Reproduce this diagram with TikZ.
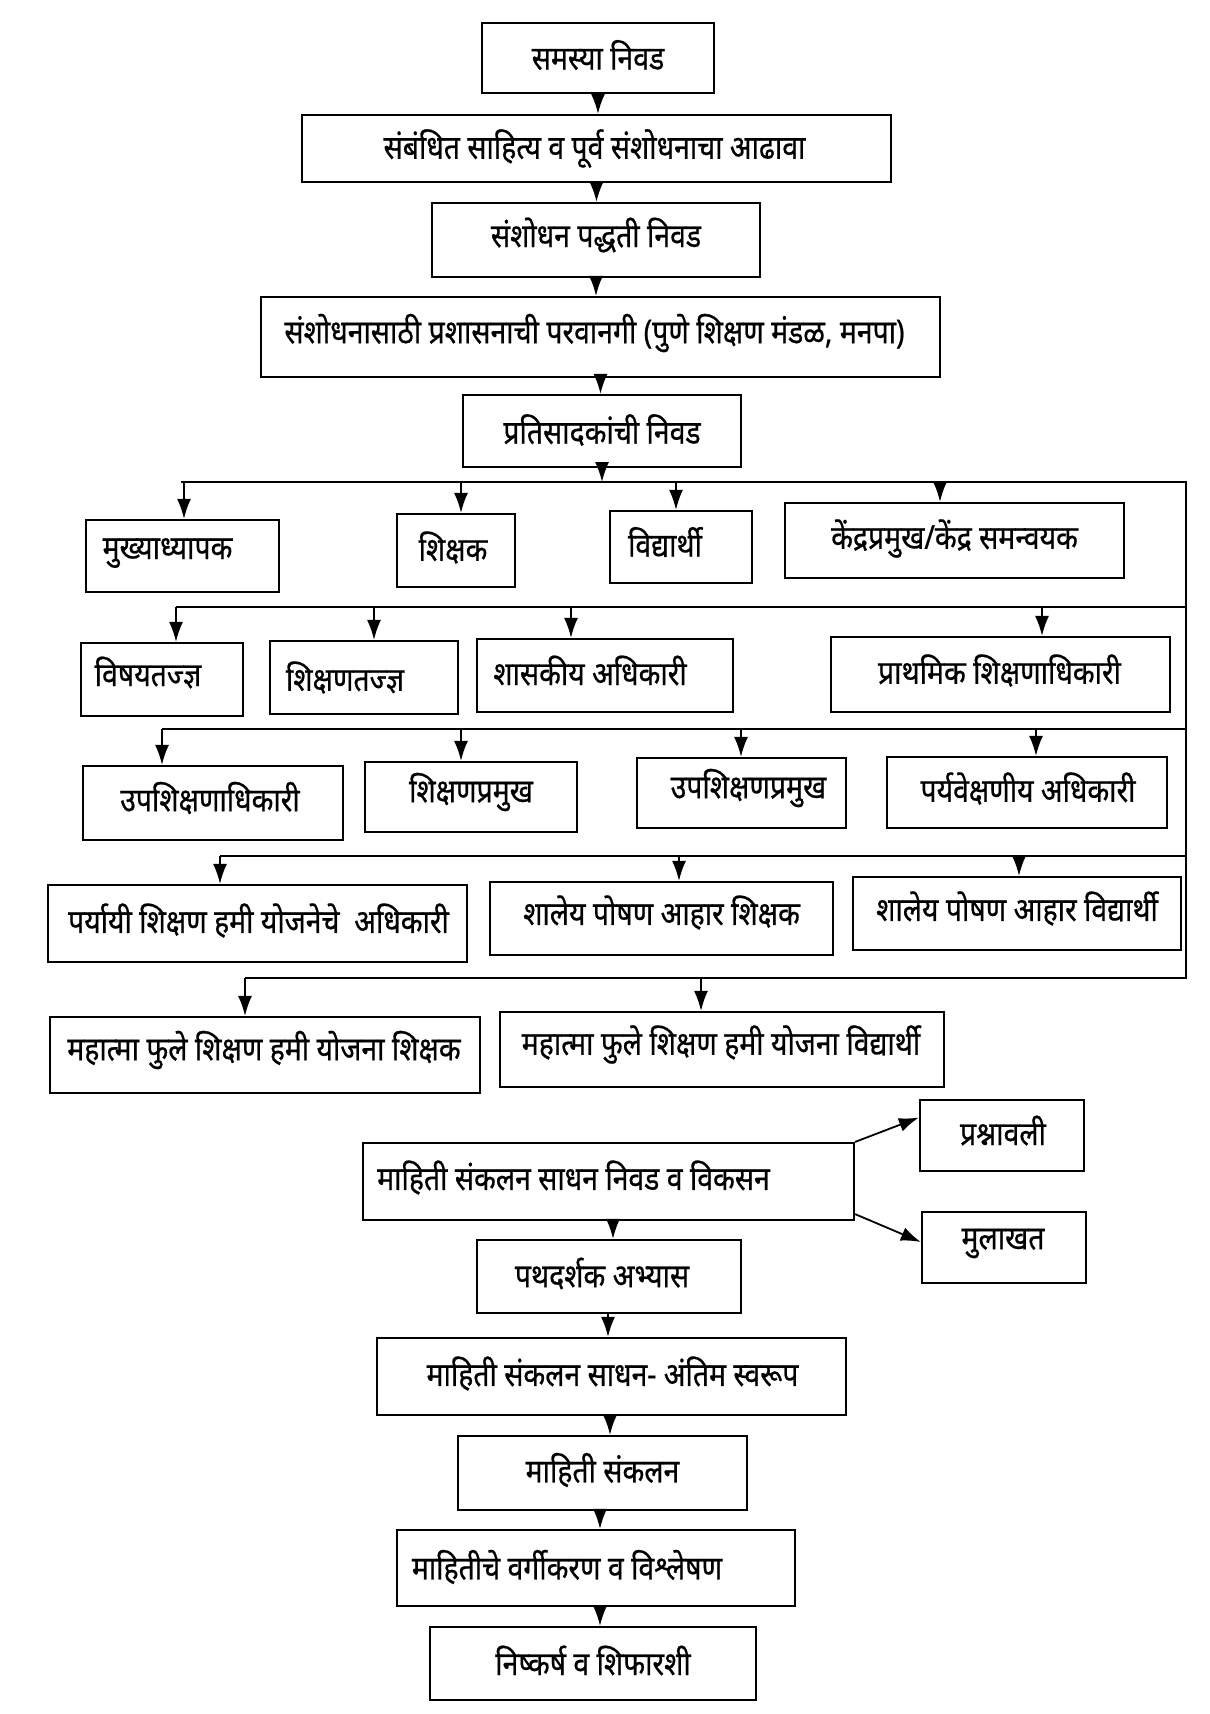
\documentclass[tikz,border=0pt]{standalone}
\usepackage{fontspec}
\setmainfont[Script=Devanagari,FakeStretch=0.86,FakeBold=0.6]{Noto Sans}
\usetikzlibrary{arrows.meta,calc}
\tikzset{
  box/.style={draw, line width=1.1pt, inner sep=0pt, rectangle},
  lbl/.style={font=\fontsize{16.5pt}{19pt}\selectfont, inner sep=0pt},
  arr/.style={-{Latex[length=10pt,width=7pt]}, line width=0.9pt},
  bus/.style={line width=1.1pt}
}
\newcommand\bx[8]{\node[box, minimum width={(#4-#2)*0.5pt}, minimum height={(#5-#3)*0.5pt},
  label={[lbl, xshift={(#6)*0.5pt}, yshift={-(#7)*0.5pt}]center:{#8}}] (#1) at ({(#2+#4)/2},{(#3+#5)/2}) {};}
\begin{document}
\begin{tikzpicture}[x=0.5pt,y=-0.5pt]
\useasboundingbox[fill=white] (0,0) rectangle (1210,1714);
% main chain
\bx{n1}{482}{23}{714}{93}{0}{-3}{समस्या निवड}
\bx{n2}{302}{115}{891}{182}{-2}{0}{संबंधित साहित्य व पूर्व संशोधनाचा आढावा}
\bx{n3}{432}{203}{760}{277}{0}{-5}{संशोधन पद्धती निवड}
\bx{n4}{261}{297}{940}{377}{-6}{-4}{संशोधनासाठी प्रशासनाची परवानगी (पुणे शिक्षण मंडळ, मनपा)}
\bx{n5}{463}{395}{741}{467}{0}{-1}{प्रतिसादकांची निवड}
% row 1
\bx{r11}{86}{520}{279}{592}{-15}{-3}{मुख्याध्यापक}
\bx{r12}{397}{514}{515}{587}{-3}{-3}{शिक्षक}
\bx{r13}{610}{511}{752}{583}{-16}{-5}{विद्यार्थी}
\bx{r14}{785}{503}{1124}{578}{0}{-2}{केंद्रप्रमुख/केंद्र समन्वयक}
% row 2
\bx{r21}{81}{643}{243}{716}{-14}{-7}{विषयतज्ज्ञ}
\bx{r22}{270}{641}{458}{714}{-19}{0}{शिक्षणतज्ज्ञ}
\bx{r23}{477}{639}{733}{712}{-15}{-5}{शासकीय अधिकारी}
\bx{r24}{831}{637}{1170}{712}{-1}{-4}{प्राथमिक शिक्षणाधिकारी}
% row 3
\bx{r31}{83}{766}{343}{840}{-3}{-5}{उपशिक्षणाधिकारी}
\bx{r32}{365}{762}{577}{832}{0}{-5}{शिक्षणप्रमुख}
\bx{r33}{637}{758}{846}{828}{7}{-5}{उपशिक्षणप्रमुख}
\bx{r34}{887}{757}{1167}{828}{1}{-4}{पर्यवेक्षणीय अधिकारी}
% row 4
\bx{r41}{48}{885}{467}{962}{1}{-3}{पर्यायी शिक्षण हमी योजनेचे \ अधिकारी}
\bx{r42}{490}{882}{833}{955}{0}{-6}{शालेय पोषण आहार शिक्षक}
\bx{r43}{853}{877}{1181}{950}{0}{-5}{शालेय पोषण आहार विद्यार्थी}
% row 5
\bx{r51}{50}{1017}{480}{1093}{-1}{-5}{महात्मा फुले शिक्षण हमी योजना शिक्षक}
\bx{r52}{500}{1012}{944}{1087}{-1}{-5}{महात्मा फुले शिक्षण हमी योजना विद्यार्थी}
% lower part
\bx{m1}{363}{1143}{854}{1220}{-35}{-4}{माहिती संकलन साधन निवड व विकसन}
\bx{q1}{920}{1100}{1084}{1171}{1}{-5}{प्रश्नावली}
\bx{q2}{922}{1212}{1086}{1283}{-1}{-4}{मुलाखत}
\bx{m2}{477}{1240}{741}{1313}{-7}{-3}{पथदर्शक अभ्यास}
\bx{m3}{377}{1338}{846}{1415}{1}{-3}{माहिती संकलन साधन- अंतिम स्वरूप}
\bx{m4}{458}{1436}{747}{1510}{0}{-3}{माहिती संकलन}
\bx{m5}{397}{1530}{795}{1606}{-29}{-1}{माहितीचे वर्गीकरण व विश्लेषण}
\bx{m6}{430}{1627}{756}{1700}{0}{-3}{निष्कर्ष व शिफारशी}
% main chain arrows
\draw[arr] (n1.south) -- (n1.south |- n2.north);
\draw[arr] (n2.south) -- (n2.south |- n3.north);
\draw[arr] (n3.south) -- (n3.south |- n4.north);
\draw[arr] (n4.south) -- (n4.south |- n5.north);
% buses
\coordinate (b1L) at (181,482);  \coordinate (b1R) at (1186,482);
\coordinate (b2L) at (176,607);  \coordinate (b2R) at (1186,607);
\coordinate (b3L) at (162,729);  \coordinate (b3R) at (1186,729);
\coordinate (b4L) at (220,856);  \coordinate (b4R) at (1186,856);
\coordinate (b5L) at (245,978);  \coordinate (b5R) at (1186,978);
\draw[arr] (n5.south) -- (n5.south |- b1L);
\draw[bus] (b1L) -- (b1R) -- (b5R) -- (b5L);
\draw[bus] (b2L) -- (b2R);
\draw[bus] (b3L) -- (b3R);
\draw[bus] (b4L) -- (b4R);
% row drops
\coordinate (d11) at (184,482); \coordinate (d12) at (461,482); \coordinate (d13) at (676,482); \coordinate (d14) at (940,482);
\draw[arr] (d11) -- (d11 |- r11.north);
\draw[arr] (d12) -- (d12 |- r12.north);
\draw[arr] (d13) -- (d13 |- r13.north);
\draw[arr] (d14) -- (d14 |- r14.north);
\coordinate (d21) at (176,607); \coordinate (d22) at (374,607); \coordinate (d23) at (571,607); \coordinate (d24) at (1042,607);
\draw[arr] (d21) -- (d21 |- r21.north);
\draw[arr] (d22) -- (d22 |- r22.north);
\draw[arr] (d23) -- (d23 |- r23.north);
\draw[arr] (d24) -- (d24 |- r24.north);
\coordinate (d31) at (162,729); \coordinate (d32) at (461,729); \coordinate (d33) at (741,729); \coordinate (d34) at (1036,729);
\draw[arr] (d31) -- (d31 |- r31.north);
\draw[arr] (d32) -- (d32 |- r32.north);
\draw[arr] (d33) -- (d33 |- r33.north);
\draw[arr] (d34) -- (d34 |- r34.north);
\coordinate (d41) at (220,856); \coordinate (d42) at (679,856); \coordinate (d43) at (1019,856);
\draw[arr] (d41) -- (d41 |- r41.north);
\draw[arr] (d42) -- (d42 |- r42.north);
\draw[arr] (d43) -- (d43 |- r43.north);
\coordinate (d51) at (245,978); \coordinate (d52) at (701,978);
\draw[arr] (d51) -- (d51 |- r51.north);
\draw[arr] (d52) -- (d52 |- r52.north);
% lower arrows
\draw[arr] (m1.north east) -- ([yshift=9pt]q1.west);
\draw[arr] ([yshift=3.5pt]m1.south east) -- ([yshift=2.75pt]q2.west);
\coordinate (e1) at (613,1220);
\draw[arr] (e1) -- (e1 |- m2.north);
\draw[arr] (m2.south -| 608,0) -- (m3.north -| 608,0);
\draw[arr] (m3.south -| 610,0) -- (m4.north -| 610,0);
\draw[arr] (m4.south -| 600,0) -- (m5.north -| 600,0);
\draw[arr] (m5.south -| 600,0) -- (m6.north -| 600,0);
\end{tikzpicture}
\end{document}
